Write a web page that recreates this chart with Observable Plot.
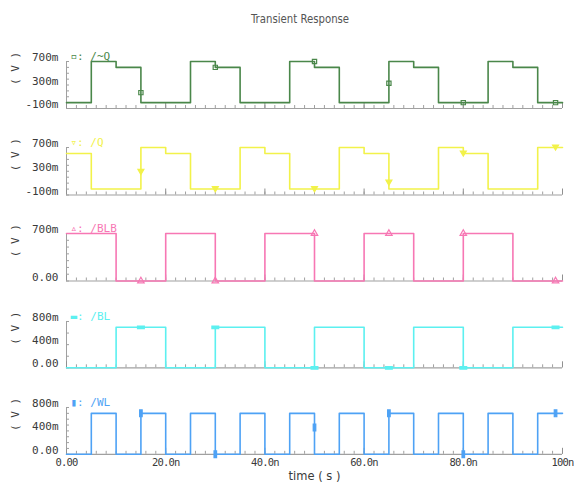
<!DOCTYPE html>
<html><head><meta charset="utf-8">
<script src="https://cdn.jsdelivr.net/npm/d3@7"></script>
<script src="https://cdn.jsdelivr.net/npm/@observablehq/plot@0.6"></script>
<style>
html,body{margin:0;padding:0;background:#fff;}
#chart{position:relative;width:574px;height:488px;overflow:hidden;background:#fff;}
#title{position:absolute;left:0;width:600px;top:11px;text-align:center;font:13px "DejaVu Sans";color:#555;transform:scaleX(0.78);transform-origin:300px 0;white-space:nowrap;}
.panel{position:absolute;left:0;top:0;}
svg.panel g[aria-label="x-axis tick label"] text{letter-spacing:-0.8px;}
</style></head><body><div id="chart"><div id="title">Transient Response</div></div>
<script>
// ---- data (time in ns, voltage in V) ----
const segStart = [0,5,10,15,20,25,30,35,40,45,50,55,60,65,70,75,80,85,90,95];
const tEnd = 100;
const notQ = [0,0.7,0.6,0,0,0.7,0.6,0,0,0.7,0.6,0,0,0.7,0.6,0,0,0.7,0.6,0];
const q    = [0.6,0,0,0.7,0.6,0,0,0.7,0.6,0,0,0.7,0.6,0,0,0.7,0.6,0,0,0.7];
const blb  = [0.7,0.7,0,0,0.7,0.7,0,0,0.7,0.7,0,0,0.7,0.7,0,0,0.7,0.7,0,0];
const bl   = [0,0,0.7,0.7,0,0,0.7,0.7,0,0,0.7,0.7,0,0,0.7,0.7,0,0,0.7,0.7];
const wl   = [0,0.7,0,0.7,0,0.7,0,0.7,0,0.7,0,0.7,0,0.7,0,0.7,0,0.7,0,0.7];

const markT     = [15,30,50,65,80,98.6];
const notQMarks = [0.17,0.6,0.7,0.33,0,0];
const qMarks    = [0.29,0,0,0.11,0.6,0.7];
const blbMarks  = [0,0,0.7,0.7,0.7,0];
const blMarks   = [0.7,0.7,0,0,0,0.7];
const wlMarks   = [0.7,0,0.46,0.7,0,0.7];

const names = ["/~Q","/Q","/BLB","/BL","/WL"];
const legendGlyphs = ["\u25AB","\u25BF","\u25B5","\u25AC","\u25AE"];
const yLabelTicksA = [0.7,0.3,-0.1], yLabelsA = ["700m","300m","-100m"];
const yLabelTicksB = [0.7,0], yLabelsB = ["700m","0.00"];
const yLabelTicksC = [0.8,0.4,0], yLabelsC = ["800m","400m","0.00"];
const xLabelTicks = [0,20,40,60,80,100];
const xLabels = ["0.00","20.0n","40.0n","60.0n","80.0n","100n"];
const xLabelText = "time ( s )";
const yLabelText = "( V )";

// ---- helpers ----
const toRows = vals => segStart.map((t,i)=>({t, v: vals[i]})).concat([{t: tEnd, v: vals[vals.length-1]}]);
const toMarks = vals => markT.map((t,i)=>({t, v: vals[i]}));
const range = (a,b,s) => d3.range(Math.round((b-a)/s)+1).map(i=>+(a+i*s).toFixed(4));

const hbar = {draw(ctx,size){const s=Math.sqrt(size);ctx.rect(-s*0.8,-s*0.3,s*1.6,s*0.6);}};
const vbar = {draw(ctx,size){const s=Math.sqrt(size);ctx.rect(-s*0.3,-s*0.8,s*0.6,s*1.6);}};
const tri = {draw(ctx,size){const s=Math.sqrt(size)*0.7;ctx.moveTo(-s,-s*0.8);ctx.lineTo(s,-s*0.8);ctx.lineTo(0,s*0.9);ctx.closePath();}};

const panels = [
  {vals: notQ, marks: notQMarks, color:"#4a874a", dom:[-0.1,0.7], top:60.5, h:47, lt:yLabelTicksA, ll:yLabelsA, minor:range(-0.1,0.7,0.1), sym:"square", fill:"none"},
  {vals: q,    marks: qMarks,    color:"#f2f24a", dom:[-0.1,0.7], top:146.5, h:47.5, lt:yLabelTicksA, ll:yLabelsA, minor:range(-0.1,0.7,0.1), sym:tri, fill:"currentColor"},
  {vals: blb,  marks: blbMarks,  color:"#f777b4", dom:[0,0.7], top:233, h:47.5, lt:yLabelTicksB, ll:yLabelsB, minor:range(0,0.7,0.1), sym:"triangle", fill:"none"},
  {vals: bl,   marks: blMarks,   color:"#5cf0f0", dom:[0,0.8], top:320.7, h:46.3, lt:yLabelTicksC, ll:yLabelsC, minor:range(0,0.8,0.2), sym:hbar, fill:"currentColor"},
  {vals: wl,   marks: wlMarks,   color:"#4ea2f5", dom:[0,0.8], top:406.7, h:46.8, lt:yLabelTicksC, ll:yLabelsC, minor:range(0,0.8,0.1), sym:vbar, fill:"currentColor"}
];

const W = 574, ML = 66, MR = 12, MT = 18;
const plotW = W - ML - MR;
const xMinor = range(0,100,2);
const xMajor = range(0,100,20);
const chart = document.getElementById("chart");

panels.forEach((p, k) => {
  const last = k === panels.length - 1;
  const MB = last ? 36 : 4;
  const marks = [
    Plot.ruleX([0], {stroke:"#a0a0a0", strokeWidth:1}),
    Plot.ruleY([p.dom[0]], {stroke:"#a0a0a0", strokeWidth:1.2}),
    Plot.tickX(xMinor, {x: d=>d, stroke:"#a0a0a0", insetTop: p.h-3}),
    Plot.tickX(xMajor, {x: d=>d, stroke:"#909090", insetTop: p.h-6}),
    Plot.tickY(p.minor, {y: d=>d, stroke:"#a0a0a0", insetRight: plotW-3}),
    Plot.axisY(p.lt, {tickSize:0, tickPadding:8, dy:-4, label:null, fontSize:11, fill:"#3a3a3a",
      tickFormat: d => p.ll[p.lt.indexOf(d)]}),
    Plot.text([yLabelText], {frameAnchor:"left", dx:-51, rotate:-90, fontSize:11, fill:"#3a3a3a"}),
    Plot.text([legendGlyphs[k] + ": " + names[k]], {frameAnchor:"top-left", dx:4, dy:-9, textAnchor:"start", fontSize:11, fill:p.color}),
    Plot.line(toRows(p.vals), {x:"t", y:"v", curve:"step-after", stroke:p.color, strokeWidth:1.6}),
    Plot.dot(toMarks(p.marks), {x:"t", y:"v", symbol: () => p.sym, r:2.4, stroke:p.color, fill: p.fill === "none" ? "none" : p.color, strokeWidth:1.2})
  ];
  if (last) {
    marks.push(Plot.axisX(xLabelTicks, {tickSize:0, tickPadding:4, label:null, fontSize:10.5, fill:"#3a3a3a",
      tickFormat: d => xLabels[xLabelTicks.indexOf(d)]}));
    marks.push(Plot.text([xLabelText], {frameAnchor:"bottom", dy:26, fontSize:11.5, fill:"#3a3a3a", fontFamily:"DejaVu Sans"}));
  }
  const svg = Plot.plot({
    width: W, height: MT + p.h + MB,
    marginLeft: ML, marginRight: MR, marginTop: MT, marginBottom: MB,
    x: {domain:[0,100], axis: last ? undefined : null},
    y: {domain: p.dom},
    symbol: {type:"identity"},
    style: {fontFamily:"DejaVu Sans Mono", fontSize:"11px", background:"transparent", overflow:"visible"},
    marks
  });
  svg.classList.add("panel");
  svg.style.top = (p.top - MT) + "px";
  chart.appendChild(svg);
});
</script>
</body></html>
